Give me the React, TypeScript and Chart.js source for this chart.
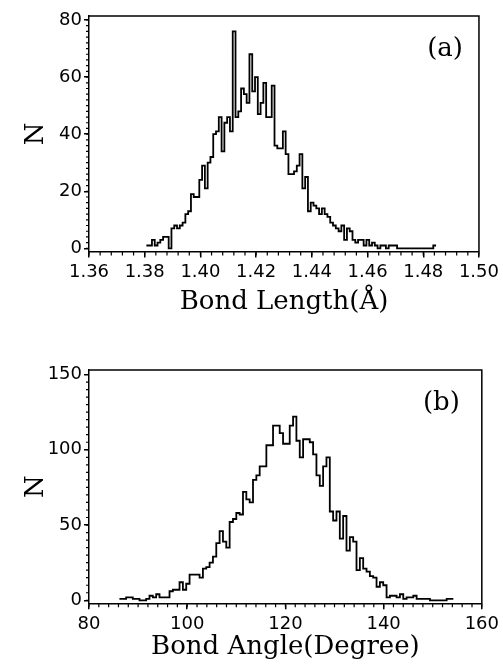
import React, { useEffect, useRef } from 'react';
import { Chart, registerables } from 'chart.js';

Chart.register(...registerables);

// ---- Panel (a): bond length histogram ----
const lengthStart = 1.3806;
const lengthBinWidth = 0.001;
const lengthCounts = [
  1, 1, 3, 1, 2, 3, 4, 4, 0, 7,
  8, 7, 8, 9, 12, 13, 19, 18, 18, 24,
  29, 21, 30, 32, 40, 41, 46, 34, 44, 46,
  41, 76, 46, 48, 56, 54, 51, 68, 55, 60,
  47, 51, 58, 46, 46, 57, 36, 35, 35, 41,
  33, 26, 26, 27, 29, 33, 21, 25, 13, 16,
  15, 14, 12, 14, 12, 11, 9, 8, 7, 6,
  8, 3, 7, 6, 3, 2, 3, 3, 1, 3,
  1, 2, 1, 0, 1, 1, 0, 1, 1, 1,
  0, 0, 0, 0, 0, 0, 0, 0, 0, 0, 0, 0, 0, 1,
];
const lengthTicks = [1.36, 1.38, 1.4, 1.42, 1.44, 1.46, 1.48, 1.5];
const lengthNTicks = [0, 20, 40, 60, 80];

// ---- Panel (b): bond angle histogram ----
const angleStart = 86.2;
const angleBinWidth = 0.68;
const angleCounts = [
  1, 1, 2, 2, 1, 1, 0, 0, 1, 3,
  2, 4, 2, 2, 2, 6, 7, 7, 12, 7,
  11, 17, 17, 17, 15, 21, 22, 25, 29, 38,
  46, 39, 35, 52, 54, 58, 57, 72, 67, 65,
  80, 83, 89, 89, 103, 103, 116, 116, 111, 104,
  104, 116, 122, 106, 95, 107, 107, 105, 97, 83,
  76, 89, 95, 59, 53, 59, 41, 56, 33, 42,
  39, 20, 28, 21, 19, 16, 15, 9, 12, 10,
  2, 3, 3, 2, 4, 1, 2, 2, 3, 1,
  1, 1, 1, 0, 0, 0, 0, 0, 1, 1,
];
const angleTicks = [80, 100, 120, 140, 160];
const angleNTicks = [0, 50, 100, 150];

const TICK_FONT = { family: 'DejaVu Sans', size: 18 };
const TITLE_FONT = { family: 'DejaVu Serif', size: 26 };

type PanelProps = {
  top: number;
  height: number;
  counts: number[];
  start: number;
  binWidth: number;
  xTicks: number[];
  yTicks: number[];
  xMin: number;
  xMax: number;
  yMin: number;
  yMax: number;
  xMinor: number;
  yMinor: number;
  decimals: number;
  xTitle: string;
  label: string;
  labelRight: number;
  padTop: number;
  xAxisHeight: number;
};

function Panel(p: PanelProps) {
  const ref = useRef<HTMLCanvasElement | null>(null);

  useEffect(() => {
    if (!ref.current) return;
    const points = p.counts.map((c, i) => ({ x: p.start + i * p.binWidth, y: c }));
    points.push({ x: p.start + p.counts.length * p.binWidth, y: p.counts[p.counts.length - 1] });

    const decor = {
      id: 'decor',
      afterDraw(chart: any) {
        const { ctx, chartArea: a, scales } = chart;
        ctx.save();
        ctx.strokeStyle = '#000';
        ctx.lineWidth = 1.5;
        ctx.beginPath();
        ctx.moveTo(a.left, a.top);
        ctx.lineTo(a.right, a.top);
        ctx.lineTo(a.right, a.bottom);
        ctx.stroke();

        ctx.lineWidth = 1.2;
        ctx.beginPath();
        const nx = Math.round((p.xMax - p.xMin) / p.xMinor);
        for (let k = 0; k <= nx; k++) {
          const px = scales.x.getPixelForValue(p.xMin + k * p.xMinor);
          ctx.moveTo(px, a.bottom);
          ctx.lineTo(px, a.bottom + 4);
        }
        const ny = Math.round((p.yTicks[p.yTicks.length - 1] - p.yTicks[0]) / p.yMinor);
        for (let k = 0; k <= ny; k++) {
          const py = scales.y.getPixelForValue(p.yTicks[0] + k * p.yMinor);
          ctx.moveTo(a.left, py);
          ctx.lineTo(a.left - 3, py);
        }
        ctx.stroke();

        ctx.fillStyle = '#000';
        ctx.font = '26px "DejaVu Serif"';
        ctx.textAlign = 'right';
        ctx.textBaseline = 'middle';
        ctx.fillText(p.label, a.right - p.labelRight, a.top + 33);
        ctx.restore();
      },
    };

    const chart = new Chart(ref.current, {
      type: 'line',
      data: {
        datasets: [
          {
            data: points,
            stepped: true,
            borderColor: '#000',
            borderWidth: 1.8,
            pointRadius: 0,
            fill: false,
            tension: 0,
          },
        ],
      },
      options: {
        animation: false,
        responsive: false,
        maintainAspectRatio: false,
        layout: { padding: { top: p.padTop, right: 19, left: 17, bottom: 0 } },
        plugins: { legend: { display: false }, tooltip: { enabled: false } },
        scales: {
          x: {
            type: 'linear',
            min: p.xMin,
            max: p.xMax,
            afterBuildTicks: (s: any) => {
              s.ticks = p.xTicks.map((v) => ({ value: v }));
            },
            afterFit: (s: any) => {
              s.height = p.xAxisHeight;
            },
            ticks: {
              color: '#000',
              font: TICK_FONT,
              padding: 4,
              maxRotation: 0,
              autoSkip: false,
              callback: (v: any) => Number(v).toFixed(p.decimals),
            },
            grid: {
              display: true,
              drawOnChartArea: false,
              drawTicks: true,
              tickLength: 6,
              color: '#000',
              lineWidth: 1.5,
            },
            border: { display: true, color: '#000', width: 1.5 },
            title: {
              display: true,
              text: p.xTitle,
              color: '#000',
              font: TITLE_FONT,
              padding: { top: 0, bottom: 2 },
            },
          },
          y: {
            type: 'linear',
            min: p.yMin,
            max: p.yMax,
            afterBuildTicks: (s: any) => {
              s.ticks = p.yTicks.map((v) => ({ value: v }));
            },
            afterFit: (s: any) => {
              s.width = 72;
            },
            ticks: { color: '#000', font: TICK_FONT, padding: 2 },
            grid: {
              display: true,
              drawOnChartArea: false,
              drawTicks: true,
              tickLength: 5,
              color: '#000',
              lineWidth: 1.5,
            },
            border: { display: true, color: '#000', width: 1.5 },
            title: {
              display: true,
              text: 'N',
              color: '#000',
              font: TITLE_FONT,
              padding: { top: 4, bottom: 4 },
            },
          },
        },
      },
      plugins: [decor],
    } as any);

    return () => chart.destroy();
  }, []);

  return (
    <canvas
      ref={ref}
      width={503}
      height={p.height}
      style={{ position: 'absolute', left: 0, top: p.top, width: 503, height: p.height, display: 'block' }}
    />
  );
}

export default function App() {
  return (
    <div style={{ position: 'absolute', left: 0, top: 0, width: 503, height: 665, background: '#fff' }}>
      <Panel
        top={0}
        height={320}
        counts={lengthCounts}
        start={lengthStart}
        binWidth={lengthBinWidth}
        xTicks={lengthTicks}
        yTicks={lengthNTicks}
        xMin={1.36}
        xMax={1.5}
        yMin={-1.1}
        yMax={81.4}
        xMinor={0.004}
        yMinor={2}
        decimals={2}
        xTitle="Bond Length(Å)"
        label="(a)"
        labelRight={16}
        padTop={16}
        xAxisHeight={68.5}
      />
      <Panel
        top={320}
        height={345}
        counts={angleCounts}
        start={angleStart}
        binWidth={angleBinWidth}
        xTicks={angleTicks}
        yTicks={angleNTicks}
        xMin={80}
        xMax={160}
        yMin={-2}
        yMax={153}
        xMinor={2}
        yMinor={5}
        decimals={0}
        xTitle="Bond Angle(Degree)"
        label="(b)"
        labelRight={22}
        padTop={50}
        xAxisHeight={61.7}
      />
    </div>
  );
}
